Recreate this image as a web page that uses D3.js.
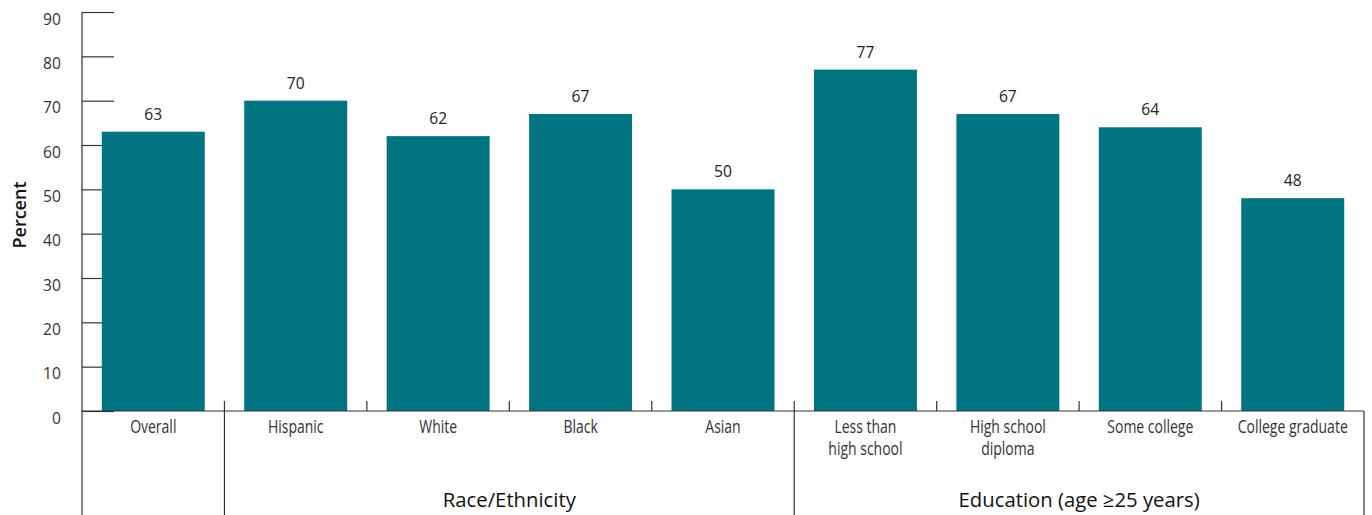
<!DOCTYPE html>
<html>
<head>
<meta charset="utf-8">
<script src="https://cdn.jsdelivr.net/npm/d3@7/dist/d3.min.js"></script>
<style>
  html, body { margin: 0; padding: 0; background: #fff; }
  svg { display: block; }
  text { font-family: "Open Sans", "Noto Sans", sans-serif; }
</style>
</head>
<body>
<svg id="chart" width="1372" height="515"></svg>
<script>
// Share of adults (percent), overall and by subgroup
const categories = ["Overall", "Hispanic", "White", "Black", "Asian",
  "Less than|high school", "High school|diploma", "Some college", "College graduate"];
const values = [63, 70, 62, 67, 50, 77, 67, 64, 48];
const yTicks = [0, 10, 20, 30, 40, 50, 60, 70, 80, 90];
// Category groups: label, index of first and last category in the group
const groups = [
  { label: "Race/Ethnicity", first: 1, last: 4 },
  { label: "Education (age \u226525 years)", first: 5, last: 8 }
];

const svg = d3.select("#chart");
const plotLeft = 82, plotRight = 1364, plotTop = 12, base = 411, plotBottom = 515;
const teal = "#017481";
const textColor = "#333";
const lineColor = "#333";
// horizontal squeeze that gives the labels a condensed face
const narrow = 0.8;

const x = d3.scaleBand().domain(d3.range(categories.length))
  .range([plotLeft, plotRight]).paddingInner(0.277).paddingOuter(0.139);
const band = (plotRight - plotLeft) / categories.length;
const y = d3.scaleLinear().domain([0, 90]).range([base, plotTop]);

// y axis: ticks drawn inward to the right of the axis line
const yAxis = d3.axisRight(y).tickValues(yTicks).tickSize(32).tickFormat("");
const ga = svg.append("g").attr("transform", `translate(${plotLeft},0)`).call(yAxis);
ga.select(".domain").remove();
ga.selectAll(".tick line").attr("stroke", lineColor).attr("stroke-width", 1.2);

svg.append("g").selectAll("text").data(yTicks).join("text")
  .attr("transform", d => `translate(61,${y(d) + 12.5}) scale(0.92,1)`)
  .attr("text-anchor", "end")
  .attr("font-size", 17).attr("fill", textColor)
  .text(d => d);

// bars
svg.append("g").selectAll("rect").data(values).join("rect")
  .attr("x", (d, i) => x(i))
  .attr("width", x.bandwidth())
  .attr("y", d => y(d))
  .attr("height", d => y(0) - y(d))
  .attr("fill", teal);

// value labels
svg.append("g").selectAll("text").data(values).join("text")
  .attr("transform", (d, i) => `translate(${x(i) + x.bandwidth() / 2},${y(d) - 12}) scale(0.92,1)`)
  .attr("text-anchor", "middle")
  .attr("font-size", 17).attr("fill", "#222")
  .text(d => d);

// axis line, baseline and right edge
svg.append("line").attr("x1", plotLeft).attr("x2", plotLeft).attr("y1", plotTop).attr("y2", plotBottom)
  .attr("stroke", lineColor).attr("stroke-width", 1.2);
svg.append("line").attr("x1", plotLeft).attr("x2", plotRight).attr("y1", base).attr("y2", base)
  .attr("stroke", lineColor).attr("stroke-width", 1.2);
svg.append("line").attr("x1", plotRight).attr("x2", plotRight).attr("y1", base).attr("y2", plotBottom)
  .attr("stroke", lineColor).attr("stroke-width", 1.2);

// band boundary ticks and group dividers
const groupStarts = new Set(groups.map(g => g.first));
const boundaries = d3.range(1, categories.length);
svg.append("g").selectAll("line").data(boundaries).join("line")
  .attr("x1", i => plotLeft + band * i).attr("x2", i => plotLeft + band * i)
  .attr("y1", base - 10)
  .attr("y2", i => groupStarts.has(i) ? plotBottom : base)
  .attr("stroke", lineColor).attr("stroke-width", 1.2);

// category labels
const catLabels = svg.append("g").selectAll("text").data(categories).join("text")
  .attr("transform", (d, i) => `translate(${x(i) + x.bandwidth() / 2},433) scale(${narrow},1)`)
  .attr("text-anchor", "middle")
  .attr("font-size", 17.5).attr("fill", textColor);
catLabels.each(function(d) {
  const t = d3.select(this);
  d.split("|").forEach((line, k) => {
    t.append("tspan").attr("x", 0).attr("dy", k === 0 ? 0 : 22).text(line);
  });
});

// group labels
svg.append("g").selectAll("text").data(groups).join("text")
  .attr("x", g => (plotLeft + band * g.first + plotLeft + band * (g.last + 1)) / 2)
  .attr("y", 507)
  .attr("text-anchor", "middle")
  .attr("font-size", 20.3).attr("fill", "#111")
  .text(g => g.label);

// y axis title
svg.append("text")
  .attr("transform", "translate(26,215) rotate(-90)")
  .attr("text-anchor", "middle")
  .attr("font-size", 18).attr("font-weight", 600).attr("fill", "#111")
  .text("Percent");
</script>
</body>
</html>
